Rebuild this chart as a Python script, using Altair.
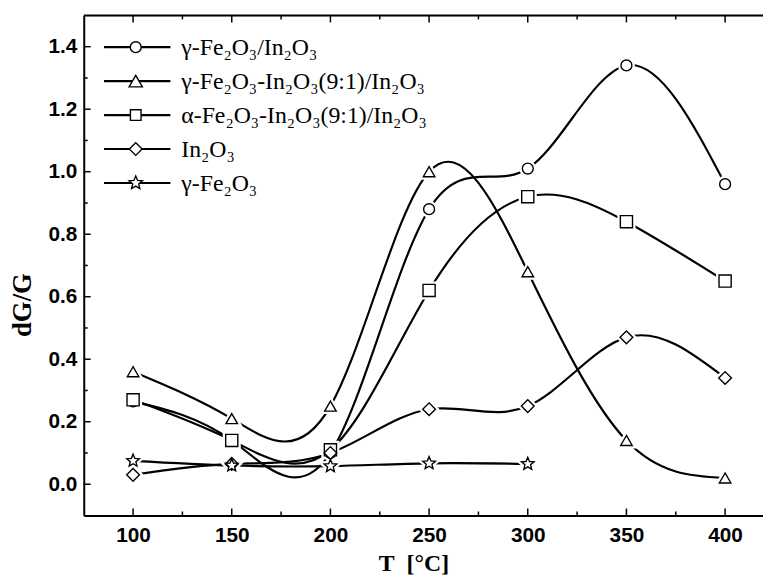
import altair as alt
import pandas as pd

# ---- data ----
T = [100, 150, 200, 250, 300, 350, 400]
T_star = [100, 150, 200, 250, 300]
gamma_fe2o3_in2o3 = [0.265, 0.14, 0.10, 0.88, 1.01, 1.34, 0.96]
gamma_91_in2o3 = [0.36, 0.21, 0.25, 1.00, 0.68, 0.14, 0.02]
alpha_91_in2o3 = [0.27, 0.14, 0.11, 0.62, 0.92, 0.84, 0.65]
in2o3 = [0.03, 0.065, 0.10, 0.24, 0.25, 0.47, 0.34]
gamma_fe2o3 = [0.075, 0.06, 0.058, 0.067, 0.065]

series_names = ["g1", "g91", "a91", "in", "g"]
series_labels = [
    "γ-Fe₂O₃/In₂O₃",
    "γ-Fe₂O₃-In₂O₃(9:1)/In₂O₃",
    "α-Fe₂O₃-In₂O₃(9:1)/In₂O₃",
    "In₂O₃",
    "γ-Fe₂O₃",
]
x_major = [100, 150, 200, 250, 300, 350, 400]
x_minor = [125, 175, 225, 275, 325, 375]
y_major = [0.0, 0.2, 0.4, 0.6, 0.8, 1.0, 1.2, 1.4]
y_minor = [0.1, 0.3, 0.5, 0.7, 0.9, 1.1, 1.3]

STAR = ("M0,-1 L0.265,-0.364 L0.951,-0.309 L0.428,0.139 L0.588,0.809 "
        "L0,0.45 L-0.588,0.809 L-0.428,0.139 L-0.951,-0.309 L-0.265,-0.364 Z")
shapes = ["circle", "triangle-up", "square", "diamond", STAR]
sizes = [121, 180, 115, 165, 200]

rows = []
for name, xs, ys in zip(series_names,
                        [T, T, T, T, T_star],
                        [gamma_fe2o3_in2o3, gamma_91_in2o3, alpha_91_in2o3, in2o3, gamma_fe2o3]):
    for x, y in zip(xs, ys):
        rows.append({"series": name, "T": x, "v": y})
df = pd.DataFrame(rows)

W, H = 686, 505
XDOM = [75, 75 + W / 1.993]
YDOM = [-0.1, 1.5]

xs = alt.Scale(domain=XDOM, nice=False, zero=False)
ys = alt.Scale(domain=YDOM, nice=False, zero=False)
shape_scale = alt.Scale(domain=series_names, range=shapes)
size_scale = alt.Scale(domain=series_names, range=sizes)

base = alt.Chart(df)

lines = base.mark_line(interpolate="natural", color="black", strokeWidth=2.2).encode(
    x=alt.X("T:Q", scale=xs,
            axis=alt.Axis(values=x_major, format="d", ticks=False, grid=False,
                          labelFont="Liberation Sans", labelFontWeight="bold",
                          labelFontSize=21, labelColor="black", labelPadding=9,
                          domainColor="black", domainWidth=2,
                          title="T\u00a0\u00a0[°C]", titleFont="Liberation Serif",
                          titleFontWeight="bold", titleFontSize=24, titleColor="black",
                          titleX=333, titleY=56, titleBaseline="alphabetic",
                          titleAlign="center")),
    y=alt.Y("v:Q", scale=ys,
            axis=alt.Axis(values=y_major, format=".1f", ticks=False, grid=False,
                          labelFont="Liberation Sans", labelFontWeight="bold",
                          labelFontSize=21, labelColor="black", labelPadding=7,
                          domainColor="black", domainWidth=2,
                          title="dG/G", titleFont="Liberation Serif",
                          titleFontWeight="bold", titleFontSize=27, titleColor="black",
                          titleX=-62, titleY=292, titleAlign="center",
                          titleBaseline="middle", titleAngle=270)),
    detail="series:N",
    order="T:Q",
)

halo = base.mark_point(filled=False, fill="white", stroke="white", strokeWidth=6,
                       opacity=1).encode(
    x=alt.X("T:Q", scale=xs), y=alt.Y("v:Q", scale=ys),
    shape=alt.Shape("series:N", scale=shape_scale, legend=None),
    size=alt.Size("series:N", scale=size_scale, legend=None),
)

markers = base.mark_point(filled=False, fill="white", stroke="black", strokeWidth=1.4,
                          opacity=1).encode(
    x=alt.X("T:Q", scale=xs), y=alt.Y("v:Q", scale=ys),
    shape=alt.Shape("series:N", scale=shape_scale, legend=None),
    size=alt.Size("series:N", scale=size_scale, legend=None),
)

# ---- inward ticks ----
def xticks(vals, length, top):
    d = pd.DataFrame({"t": vals})
    if top:
        yy, yy2 = alt.value(0), alt.value(length)
    else:
        yy, yy2 = alt.value(H), alt.value(H - length)
    return alt.Chart(d).mark_rule(color="black", strokeWidth=1.5).encode(
        x=alt.X("t:Q", scale=xs), y=yy, y2=yy2)

def yticks(vals, length):
    d = pd.DataFrame({"t": vals})
    return alt.Chart(d).mark_rule(color="black", strokeWidth=1.5).encode(
        y=alt.Y("t:Q", scale=ys), x=alt.value(0), x2=alt.value(length))

ticks = [xticks(x_major, 7, False), xticks(x_minor, 4, False),
         xticks(x_major, 7, True), xticks(x_minor, 4, True),
         yticks(y_major, 7), yticks(y_minor, 4)]

one = pd.DataFrame({"a": [0]})
top_line = alt.Chart(one).mark_rule(color="black", strokeWidth=2).encode(
    x=alt.value(0), x2=alt.value(W), y=alt.value(0))

# ---- legend ----
legend_layers = []
for i, (lab, shp, sz) in enumerate(zip(series_labels, shapes, sizes)):
    ly = 32 + 34.3 * i
    legend_layers.append(alt.Chart(one).mark_rule(color="black", strokeWidth=2.2).encode(
        x=alt.value(20.5), x2=alt.value(87.5), y=alt.value(ly)))
    legend_layers.append(alt.Chart(one).mark_point(
        shape=shp, size=sz, filled=False, fill="white", stroke="black",
        strokeWidth=1.4, opacity=1).encode(x=alt.value(52.5), y=alt.value(ly)))
    legend_layers.append(alt.Chart(one).mark_text(
        text=lab, align="left", baseline="alphabetic", font="Liberation Serif",
        fontSize=24, color="black").encode(x=alt.value(98.5), y=alt.value(ly + 8)))

chart = alt.layer(lines, halo, markers, top_line, *ticks, *legend_layers).properties(
    width=W, height=H, autosize="none",
    padding={"left": 76.5, "top": 4.7, "right": 0, "bottom": 60},
).configure_view(stroke=None).configure(background="white")

chart.save("out.html", embed_options={"renderer": "svg", "actions": False})
